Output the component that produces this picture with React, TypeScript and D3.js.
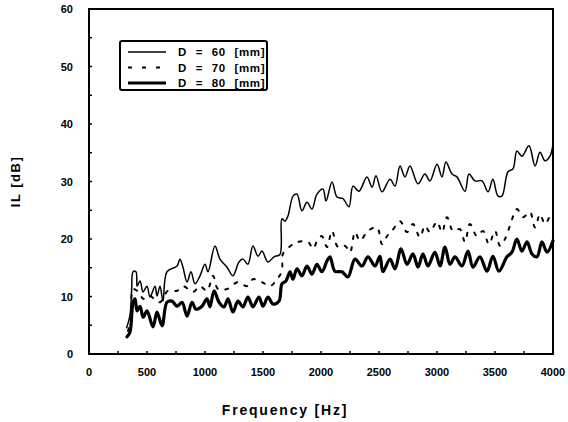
import React, { useEffect, useRef } from "react";
import * as d3 from "d3";

// Insertion loss vs. frequency for three diameters
const freq60 = [325, 353, 368, 380, 405, 415, 440, 466, 500, 526, 569, 586, 612, 638, 672, 759, 784, 810, 845, 879, 914, 957, 1000, 1026, 1086, 1129, 1190, 1241, 1293, 1327, 1370, 1413, 1457, 1491, 1543, 1595, 1646, 1663, 1690, 1715, 1760, 1793, 1836, 1879, 1922, 1965, 2017, 2043, 2095, 2138, 2190, 2241, 2276, 2327, 2396, 2440, 2474, 2526, 2595, 2638, 2681, 2724, 2767, 2836, 2896, 2939, 3000, 3043, 3077, 3129, 3172, 3241, 3276, 3327, 3388, 3440, 3482, 3525, 3560, 3612, 3655, 3689, 3732, 3793, 3845, 3888, 3931, 3974, 4000];
const il60 = [4.6, 6.7, 11.3, 14.3, 14.3, 11.8, 12.7, 10.8, 11.8, 9.9, 11.8, 10.1, 11.8, 9.2, 14.3, 15.3, 16.5, 15.1, 12.5, 14.3, 12.2, 13.6, 15.6, 14.3, 18.8, 16.5, 15.1, 13.6, 16.0, 16.5, 15.6, 18.8, 17.0, 17.9, 16.0, 16.9, 17.3, 23.5, 23.1, 24.0, 27.5, 27.8, 24.9, 26.4, 25.2, 27.8, 28.7, 26.6, 29.9, 27.3, 27.0, 25.6, 29.2, 28.3, 30.8, 29.0, 31.0, 28.2, 30.4, 29.2, 32.7, 30.8, 32.7, 29.6, 31.3, 30.1, 33.0, 30.8, 33.4, 31.3, 30.8, 28.3, 31.3, 30.1, 30.1, 28.2, 30.4, 27.5, 27.5, 31.7, 32.2, 35.3, 34.4, 36.2, 32.7, 35.1, 33.6, 34.4, 36.5];

const freq70 = [336, 360, 380, 414, 440, 466, 520, 570, 612, 681, 759, 810, 897, 957, 1017, 1069, 1112, 1190, 1284, 1362, 1413, 1491, 1560, 1620, 1663, 1672, 1758, 1800, 1888, 1931, 1974, 2008, 2052, 2095, 2146, 2207, 2250, 2293, 2336, 2405, 2483, 2526, 2569, 2612, 2681, 2741, 2793, 2853, 2896, 2939, 3000, 3043, 3086, 3138, 3198, 3241, 3284, 3344, 3396, 3448, 3500, 3543, 3586, 3629, 3689, 3741, 3801, 3845, 3888, 3931, 3974, 4000];
const il70 = [4.0, 6.0, 11.3, 11.0, 10.5, 9.6, 10.2, 9.4, 9.0, 11.0, 11.0, 11.8, 10.8, 11.8, 11.0, 13.6, 11.3, 11.3, 12.5, 11.8, 13.0, 12.5, 11.8, 13.0, 14.4, 17.4, 19.1, 19.5, 19.5, 18.3, 20.0, 20.5, 18.6, 21.4, 18.6, 18.8, 17.7, 21.2, 19.7, 21.4, 22.0, 19.1, 20.5, 21.4, 23.1, 21.2, 22.6, 20.3, 22.3, 21.2, 23.0, 21.2, 23.8, 21.4, 21.7, 19.5, 22.6, 20.5, 21.4, 19.1, 21.4, 18.8, 20.0, 22.3, 25.2, 23.8, 24.7, 22.0, 24.3, 22.6, 24.0, 24.7];

const freq80 = [328, 353, 380, 397, 414, 440, 466, 500, 552, 586, 630, 672, 715, 759, 802, 845, 888, 922, 974, 1017, 1043, 1078, 1121, 1164, 1198, 1241, 1284, 1327, 1370, 1413, 1465, 1500, 1543, 1586, 1638, 1663, 1698, 1733, 1758, 1793, 1836, 1879, 1922, 1965, 2008, 2052, 2077, 2120, 2180, 2232, 2293, 2353, 2405, 2465, 2508, 2534, 2595, 2638, 2690, 2741, 2793, 2836, 2879, 2922, 2982, 3026, 3069, 3112, 3155, 3215, 3267, 3310, 3370, 3431, 3482, 3534, 3603, 3646, 3689, 3732, 3776, 3819, 3862, 3905, 3948, 4000];
const il80 = [3.0, 3.8, 9.0, 9.6, 7.5, 8.3, 6.4, 7.5, 4.7, 7.3, 4.9, 9.0, 9.2, 8.3, 9.0, 6.6, 9.0, 7.8, 8.3, 9.6, 8.2, 11.0, 9.0, 8.2, 9.6, 7.3, 9.2, 8.2, 9.9, 8.2, 9.9, 8.3, 9.9, 8.7, 9.2, 12.2, 12.7, 14.3, 13.0, 14.8, 13.6, 15.3, 13.9, 15.6, 14.3, 16.2, 16.9, 14.4, 14.3, 13.4, 16.5, 15.3, 16.9, 15.3, 17.0, 14.3, 16.5, 14.8, 18.3, 15.6, 17.4, 15.1, 17.4, 15.3, 17.7, 15.3, 18.6, 15.6, 16.9, 15.3, 17.9, 15.1, 16.9, 14.4, 17.0, 14.4, 16.9, 17.7, 20.0, 17.9, 19.5, 17.4, 16.9, 19.5, 17.7, 19.7];

const seriesNames = ["D = 60 [mm]", "D = 70 [mm]", "D = 80 [mm]"];
const xTicks = [0, 500, 1000, 1500, 2000, 2500, 3000, 3500, 4000];
const yTicks = [0, 10, 20, 30, 40, 50, 60];

const W = 568;
const H = 422;
const M = { left: 89, right: 15, top: 9, bottom: 68 };
const FONT = "'Liberation Sans', Arial, sans-serif";

export default function App() {
  const ref = useRef<SVGSVGElement | null>(null);

  useEffect(() => {
    const svg = d3.select(ref.current);
    svg.selectAll("*").remove();

    const x = d3.scaleLinear().domain([0, 4000]).range([M.left, W - M.right]);
    const y = d3.scaleLinear().domain([0, 60]).range([H - M.bottom, M.top]);

    const styles = [
      { width: 1.5, dash: null as string | null },
      { width: 2, dash: "3 8" },
      { width: 3.2, dash: null as string | null },
    ];
    const data = [
      d3.zip(freq60, il60),
      d3.zip(freq70, il70),
      d3.zip(freq80, il80),
    ];

    const line = d3
      .line<number[]>()
      .x((d) => x(d[0]))
      .y((d) => y(d[1]))
      .curve(d3.curveCatmullRom.alpha(0.5));

    data.forEach((pts, i) => {
      svg
        .append("path")
        .attr("d", line(pts))
        .attr("fill", "none")
        .attr("stroke", "#000")
        .attr("stroke-width", styles[i].width)
        .attr("stroke-linejoin", "round")
        .attr("stroke-linecap", "round")
        .attr("stroke-dasharray", styles[i].dash);
    });

    // Frame
    svg
      .append("rect")
      .attr("x", x(0))
      .attr("y", y(60))
      .attr("width", x(4000) - x(0))
      .attr("height", y(0) - y(60))
      .attr("fill", "none")
      .attr("stroke", "#000")
      .attr("stroke-width", 2);

    // Inward ticks
    const g = svg.append("g").attr("stroke", "#000").attr("stroke-width", 1.5);
    d3.range(0, 4001, 250).forEach((f) => {
      g.append("line")
        .attr("x1", x(f))
        .attr("x2", x(f))
        .attr("y1", y(0))
        .attr("y2", y(0) - 3);
    });
    d3.range(0, 61, 5).forEach((v) => {
      g.append("line")
        .attr("x1", x(0))
        .attr("x2", x(0) + 3)
        .attr("y1", y(v))
        .attr("y2", y(v));
    });

    // Tick labels
    svg
      .append("g")
      .selectAll("text")
      .data(xTicks)
      .join("text")
      .attr("x", (d) => x(d))
      .attr("y", y(0) + 22)
      .attr("text-anchor", "middle")
      .attr("font-family", FONT)
      .attr("font-weight", "bold")
      .attr("font-size", 11)
      .text((d) => String(d));

    svg
      .append("g")
      .selectAll("text")
      .data(yTicks)
      .join("text")
      .attr("x", x(0) - 16)
      .attr("y", (d) => y(d) + 4)
      .attr("text-anchor", "end")
      .attr("font-family", FONT)
      .attr("font-weight", "bold")
      .attr("font-size", 11)
      .text((d) => String(d));

    // Axis titles
    svg
      .append("text")
      .attr("x", (x(0) + x(4000)) / 2 - 36)
      .attr("y", 415)
      .attr("text-anchor", "middle")
      .attr("font-family", FONT)
      .attr("font-weight", "bold")
      .attr("font-size", 14)
      .attr("letter-spacing", 1.8)
      .text("Frequency [Hz]");

    svg
      .append("text")
      .attr("transform", `translate(20, ${y(30)}) rotate(-90)`)
      .attr("text-anchor", "middle")
      .attr("font-family", FONT)
      .attr("font-weight", "bold")
      .attr("font-size", 13)
      .attr("letter-spacing", 1.5)
      .text("IL [dB]");

    // Legend
    const lg = svg.append("g");
    lg.append("rect")
      .attr("x", 120)
      .attr("y", 41)
      .attr("width", 147)
      .attr("height", 49)
      .attr("rx", 2)
      .attr("fill", "#fff")
      .attr("stroke", "#000")
      .attr("stroke-width", 2);
    seriesNames.forEach((name, i) => {
      const ly = 52 + i * 15.5;
      lg.append("line")
        .attr("x1", 128)
        .attr("x2", 166)
        .attr("y1", ly)
        .attr("y2", ly)
        .attr("stroke", "#000")
        .attr("stroke-width", styles[i].width)
        .attr("stroke-dasharray", i === 1 ? "4 10" : styles[i].dash);
      lg.append("text")
        .attr("x", 178)
        .attr("y", ly + 4)
        .attr("font-family", FONT)
        .attr("font-weight", "bold")
        .attr("font-size", 11.5)
        .attr("letter-spacing", 0.6)
        .attr("word-spacing", 5)
        .text(name);
    });
  }, []);

  return (
    <svg
      ref={ref}
      width={W}
      height={H}
      style={{ position: "absolute", left: 0, top: 0, background: "#fff" }}
    />
  );
}
